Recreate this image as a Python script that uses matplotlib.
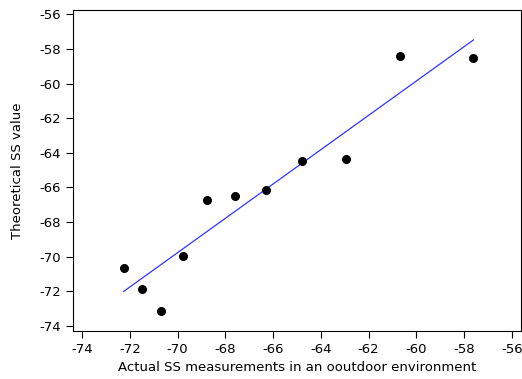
import numpy as np
import matplotlib.pyplot as plt

plt.rcParams['axes.unicode_minus'] = False

# measured (x) vs theoretical (y) signal strength
actual_ss = [-72.26, -71.51, -70.69, -69.79, -68.77, -67.61, -66.30, -64.78, -62.95, -60.68, -57.61]
theoretical_ss = [-70.67, -71.84, -73.11, -69.97, -66.70, -66.49, -66.14, -64.47, -64.34, -58.41, -58.54]

x_ticks = np.arange(-74, -55, 2)
y_ticks = np.arange(-74, -55, 2)

fig = plt.figure(figsize=(5.22, 3.79), dpi=100)
ax = fig.add_axes([73/522, 1 - 331/379, (521 - 73)/522, (331 - 10)/379])

ax.scatter(actual_ss, theoretical_ss, s=30, color='black', zorder=3)

# least squares line over the data range
slope, intercept = np.polyfit(actual_ss, theoretical_ss, 1)
xl = np.array([min(actual_ss), max(actual_ss)])
ax.plot(xl, slope*xl + intercept, color='#3333ff', lw=0.9)

ax.set_xlim(-74.38, -55.62)
ax.set_ylim(-74.29, -55.75)
ax.set_xticks(x_ticks)
ax.set_yticks(y_ticks)
ax.tick_params(labelsize=9.5, length=5, width=0.8, colors='black')
for sp in ax.spines.values():
    sp.set_linewidth(0.8)

ax.set_xlabel('Actual SS measurements in an ooutdoor environment', fontsize=9.5, labelpad=4)
ax.set_ylabel('Theoretical SS value', fontsize=9.5, labelpad=11)

fig.savefig('out.png', dpi=100)
